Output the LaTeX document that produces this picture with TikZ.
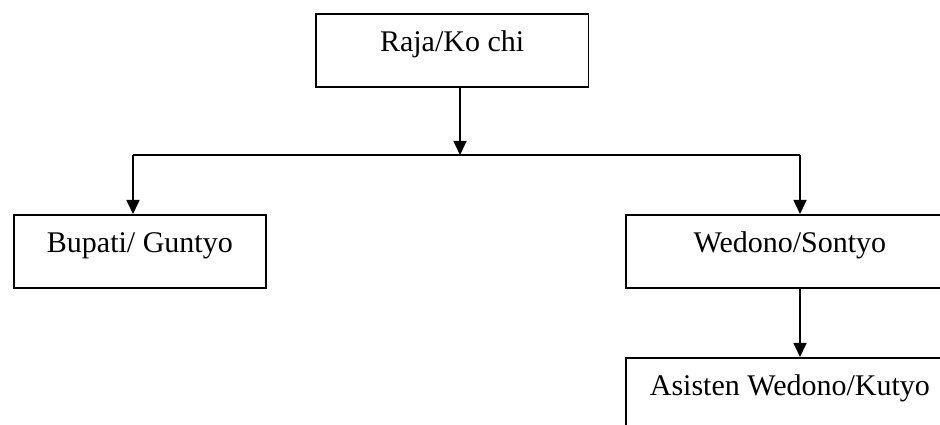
\documentclass[tikz,border=0pt]{standalone}
\usepackage{fontspec}
\setmainfont{Liberation Serif}
\usetikzlibrary{arrows.meta}
\tikzset{
  kotak/.style={draw,line width=0.7pt,rectangle,anchor=north west,inner sep=0pt,
    text height=15.2pt,text depth=14pt,font=\fontsize{12}{14}\selectfont},
  panah/.style={line width=0.7pt,-{Triangle[width=5.2pt,length=5.6pt]}}
}
\begin{document}
\begin{tikzpicture}[x=0.4pt,y=-0.4pt]
    \useasboundingbox (0,0) rectangle (940,425);

    \node[kotak,minimum width=109pt] (raja) at (315,13) {Raja/Ko chi};
    \node[kotak,minimum width=100.8pt] (bupati) at (13,214) {Bupati/ Guntyo};
    \node[kotak,minimum width=131.2pt] (wedono) at (625,214) {Wedono/Sontyo};
    \node[kotak,minimum width=131.2pt] (asisten) at (625,357) {Asisten Wedono/Kutyo};

    \coordinate (tengah) at (460,155);
    \coordinate (kiri) at (133,155);
    \coordinate (kanan) at (800,155);

    \draw[panah] (raja.south -| tengah) -- (tengah);
    \draw[line width=0.7pt] (kiri) -- (kanan);
    \draw[panah] (kiri) -- (kiri |- bupati.north);
    \draw[panah] (kanan) -- (kanan |- wedono.north);
    \draw[panah] (wedono.south -| kanan) -- (kanan |- asisten.north);
\end{tikzpicture}
\end{document}
